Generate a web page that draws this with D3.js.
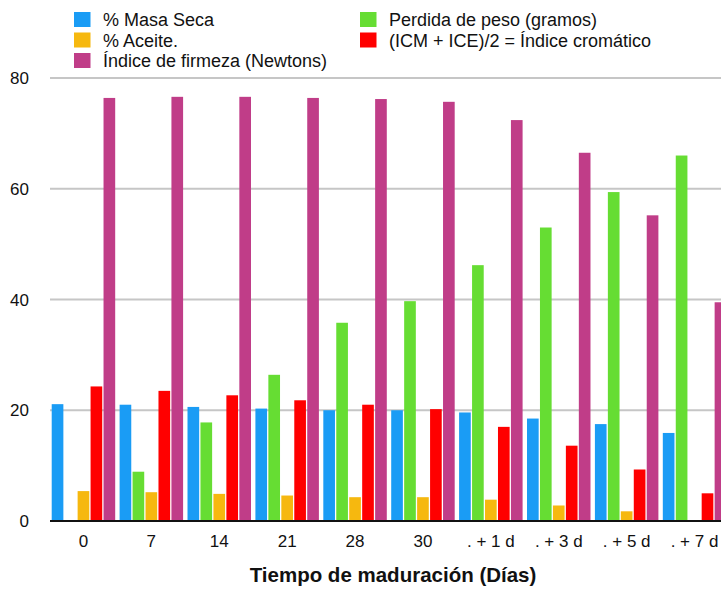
<!DOCTYPE html>
<html>
<head>
<meta charset="utf-8">
<script src="https://cdn.jsdelivr.net/npm/d3@7"></script>
<style>
  html, body { margin: 0; padding: 0; background: #fff; }
  svg { display: block; font-family: "Liberation Sans", Arial, Helvetica, sans-serif; }
</style>
</head>
<body>
<svg id="chart" width="721" height="589"></svg>
<script>
const categories = ["0", "7", "14", "21", "28", "30", ". + 1 d", ". + 3 d", ". + 5 d", ". + 7 d"];
const masaSeca   = [21.1, 21.0, 20.6, 20.3, 20.0, 20.0, 19.6, 18.5, 17.5, 15.9];
const perdida    = [0, 8.9, 17.8, 26.4, 35.8, 39.7, 46.2, 53.0, 59.4, 66.0];
const aceite     = [5.4, 5.2, 4.9, 4.6, 4.3, 4.3, 3.85, 2.8, 1.75, 0.15];
const cromatico  = [24.3, 23.5, 22.7, 21.8, 21.0, 20.2, 17.0, 13.6, 9.3, 5.0];
const firmeza    = [76.4, 76.6, 76.6, 76.4, 76.2, 75.7, 72.4, 66.5, 55.2, 39.5];
const yTicks = [0, 20, 40, 60, 80];

const seriesNames  = ["% Masa Seca", "Perdida de peso (gramos)", "% Aceite.", "(ICM + ICE)/2 = Índice cromático", "Índice de firmeza (Newtons)"];
const seriesColors = ["#1a9cf5", "#66dd33", "#f6b80f", "#ff0000", "#c03d88"];
const seriesValues = [masaSeca, perdida, aceite, cromatico, firmeza];

const svg = d3.select("#chart");

const x0 = d3.scaleBand().domain(categories).range([49.5, 728.5]).paddingInner(0.065).paddingOuter(0.0325);
const x1 = d3.scaleBand().domain(d3.range(seriesNames.length)).range([0, x0.bandwidth()]).paddingInner(0.1);
const y = d3.scaleLinear().domain([0, 80]).range([521, 78]);

// gridlines
svg.append("g").selectAll("line").data(yTicks.filter(d => d > 0)).join("line")
  .attr("x1", 50).attr("x2", 721)
  .attr("y1", d => y(d)).attr("y2", d => y(d))
  .attr("stroke", "#c6c6c6").attr("stroke-width", 1.8);

// y labels
svg.append("g").selectAll("text").data(yTicks).join("text")
  .attr("x", 29).attr("y", d => y(d) + 6)
  .attr("text-anchor", "end").attr("font-size", 17).attr("fill", "#111")
  .text(d => d);

// bars
const groups = svg.append("g").selectAll("g").data(categories).join("g")
  .attr("transform", d => `translate(${x0(d)},0)`);
groups.selectAll("rect")
  .data((c, i) => seriesValues.map((vals, s) => ({ s, v: vals[i] })))
  .join("rect")
  .attr("x", d => x1(d.s))
  .attr("width", x1.bandwidth())
  .attr("y", d => y(d.v))
  .attr("height", d => y(0) - y(d.v))
  .attr("fill", d => seriesColors[d.s]);

// baseline
svg.append("line").attr("x1", 50).attr("x2", 721).attr("y1", y(0)).attr("y2", y(0))
  .attr("stroke", "#111").attr("stroke-width", 2);

// x labels
svg.append("g").selectAll("text").data(categories).join("text")
  .attr("x", d => x0(d) + x0.bandwidth() / 2)
  .attr("y", 547)
  .attr("text-anchor", "middle").attr("font-size", 17).attr("fill", "#111")
  .text(d => d);

// axis title
svg.append("text").attr("x", 393).attr("y", 582).attr("text-anchor", "middle")
  .attr("font-size", 20.5).attr("font-weight", "bold").attr("fill", "#111")
  .text("Tiempo de maduración (Días)");

// legend
const legendItems = [
  { s: 0, col: 0, row: 0 }, { s: 2, col: 0, row: 1 }, { s: 4, col: 0, row: 2 },
  { s: 1, col: 1, row: 0 }, { s: 3, col: 1, row: 1 }
];
const colX = [74, 360];
const legend = svg.append("g").selectAll("g").data(legendItems).join("g")
  .attr("transform", d => `translate(${colX[d.col]},${12 + d.row * 20.5})`);
legend.append("rect").attr("width", 16.5).attr("height", 15).attr("fill", d => seriesColors[d.s]);
legend.append("text").attr("x", 29).attr("y", 14).attr("font-size", 18).attr("fill", "#111")
  .text(d => seriesNames[d.s]);
</script>
</body>
</html>
